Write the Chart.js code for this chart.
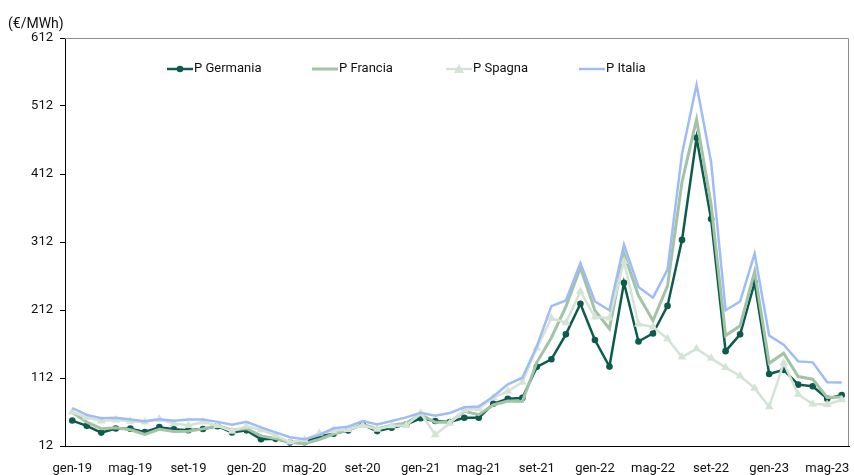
<!DOCTYPE html>
<html>
<head>
<meta charset="utf-8">
<script src="https://cdn.jsdelivr.net/npm/chart.js@4.4.1/dist/chart.umd.min.js"></script>
<style>
  html, body { margin: 0; padding: 0; background: #fff; overflow: hidden; }
  #wrap { width: 854px; height: 475px; position: relative; }
</style>
</head>
<body>
<div id="wrap"><canvas id="grafico" width="854" height="475"></canvas></div>
<script>
// mesi e anni delle etichette
const mesi = ['gen', 'feb', 'mar', 'apr', 'mag', 'giu', 'lug', 'ago', 'set', 'ott', 'nov', 'dic'];
const anni = ['19', '20', '21', '22', '23'];
const yTicks = [12, 112, 212, 312, 412, 512, 612];

// prezzi medi mensili (€/MWh), gen-19 .. giu-23
const pGermania = [
  49.4, 41.6, 31.7, 37.7, 37.5, 32.6, 39.7, 36.5, 35.1, 37.1, 41.1, 31.9,
  35.0, 21.9, 22.5, 17.1, 17.6, 26.2, 30.1, 34.9, 43.6, 33.9, 38.8, 43.5,
  52.8, 48.7, 47.2, 53.6, 53.7, 74.1, 81.5, 82.7, 128.4, 139.5, 176.2, 221.1,
  167.9, 128.8, 252.0, 165.7, 177.5, 218.0, 315.1, 465.2, 345.9, 151.5, 176.2, 252.4,
  117.8, 124.0, 102.2, 99.9, 81.6, 87.0
];
const pFrancia = [
  61.6, 47.2, 37.5, 38.7, 35.8, 29.0, 36.6, 33.3, 33.6, 37.2, 41.9, 35.3,
  37.7, 26.9, 22.9, 17.5, 15.3, 21.6, 29.6, 35.3, 43.9, 37.2, 42.4, 45.6,
  58.5, 47.0, 47.1, 63.0, 58.0, 72.4, 78.0, 77.4, 135.1, 171.3, 216.8, 274.6,
  211.4, 184.4, 294.9, 233.0, 196.4, 247.5, 400.4, 492.3, 367.3, 174.5, 188.9, 268.5,
  133.6, 148.4, 114.1, 110.2, 83.3, 84.0
];
const pSpagna = [
  62.0, 54.0, 48.8, 50.4, 48.4, 47.2, 51.5, 45.0, 42.1, 47.2, 42.2, 33.8,
  41.1, 35.9, 27.7, 17.7, 21.3, 30.6, 34.6, 36.2, 42.0, 36.6, 41.9, 42.0,
  60.2, 28.5, 45.4, 65.0, 67.1, 83.3, 92.4, 105.9, 156.1, 199.9, 193.4, 239.2,
  201.7, 200.2, 283.3, 191.5, 187.1, 169.6, 142.7, 154.9, 141.1, 127.3, 115.0, 97.0,
  69.6, 134.0, 88.0, 73.7, 73.0, 80.0
];
const pItalia = [
  67.6, 57.7, 52.9, 53.4, 51.0, 48.5, 51.4, 49.2, 50.9, 51.0, 47.5, 43.2,
  47.5, 39.3, 32.0, 24.8, 21.8, 28.0, 38.0, 40.3, 48.8, 43.6, 48.8, 54.1,
  60.7, 56.6, 60.4, 69.0, 70.0, 84.8, 102.7, 112.4, 158.6, 217.6, 226.0, 281.2,
  224.5, 211.7, 308.1, 246.0, 230.1, 271.3, 441.7, 543.2, 429.9, 211.7, 224.5, 294.9,
  174.5, 161.1, 136.4, 135.0, 105.7, 105.3
];

const etichette = [];
anni.forEach(a => mesi.forEach(m => etichette.push(m + '-' + a)));
etichette.length = pGermania.length;

const colori = {
  germania: '#0c5b4c',
  francia: '#a2c3a6',
  spagna: '#d4e3d6',
  italia: '#9fbcf7'
};
const FONT = 'Roboto, "Liberation Sans", sans-serif';

// legenda dentro l'area del grafico, come nell'originale
const legendaPlugin = {
  id: 'legendaExcel',
  afterDraw(chart) {
    const ctx = chart.ctx;
    const voci = [
      { x: 167, testo: 'P Germania', colore: colori.germania, punto: 'circle', w: 2.5 },
      { x: 312, testo: 'P Francia', colore: colori.francia, punto: null, w: 3 },
      { x: 446, testo: 'P Spagna', colore: colori.spagna, punto: 'triangle', w: 2.5 },
      { x: 579, testo: 'P Italia', colore: colori.italia, punto: null, w: 2.5 }
    ];
    const y = 69;
    ctx.save();
    voci.forEach(v => {
      ctx.strokeStyle = v.colore;
      ctx.lineWidth = v.w;
      ctx.beginPath();
      ctx.moveTo(v.x, y);
      ctx.lineTo(v.x + 26, y);
      ctx.stroke();
      ctx.fillStyle = v.colore;
      if (v.punto === 'circle') {
        ctx.beginPath();
        ctx.arc(v.x + 13, y, 3.3, 0, Math.PI * 2);
        ctx.fill();
      } else if (v.punto === 'triangle') {
        ctx.beginPath();
        ctx.moveTo(v.x + 13, y - 5);
        ctx.lineTo(v.x + 18, y + 4);
        ctx.lineTo(v.x + 8, y + 4);
        ctx.closePath();
        ctx.fill();
      }
      ctx.fillStyle = '#111';
      ctx.font = '13px ' + FONT;
      ctx.textBaseline = 'middle';
      ctx.textAlign = 'left';
      ctx.fillText(v.testo, v.x + 27, y);
    });
    // unità di misura
    ctx.font = '14px ' + FONT;
    ctx.fillText('(€/MWh)', 8, 24);
    ctx.restore();
  }
};

// bordo grigio in alto e a destra dell'area del grafico
const bordoPlugin = {
  id: 'bordoArea',
  beforeDatasetsDraw(chart) {
    const { ctx, chartArea: a } = chart;
    ctx.save();
    ctx.strokeStyle = '#8c8c8c';
    ctx.lineWidth = 1;
    ctx.beginPath();
    ctx.moveTo(a.left, a.top + 0.5);
    ctx.lineTo(a.right - 0.5, a.top + 0.5);
    ctx.lineTo(a.right - 0.5, a.bottom);
    ctx.stroke();
    ctx.restore();
  }
};

new Chart(document.getElementById('grafico').getContext('2d'), {
  type: 'line',
  data: {
    labels: etichette,
    datasets: [
      {
        label: 'P Germania', data: pGermania, order: 3,
        borderColor: colori.germania, backgroundColor: colori.germania,
        borderWidth: 2.5, pointRadius: 3.3, pointStyle: 'circle', pointBorderWidth: 0
      },
      {
        label: 'P Francia', data: pFrancia, order: 2,
        borderColor: colori.francia, backgroundColor: colori.francia,
        borderWidth: 3, pointRadius: 0
      },
      {
        label: 'P Spagna', data: pSpagna, order: 1,
        borderColor: colori.spagna, backgroundColor: colori.spagna,
        borderWidth: 2.5, pointRadius: 5, pointStyle: 'triangle', pointBorderWidth: 0
      },
      {
        label: 'P Italia', data: pItalia, order: 0,
        borderColor: colori.italia, backgroundColor: colori.italia,
        borderWidth: 2.5, pointRadius: 0
      }
    ]
  },
  options: {
    responsive: false,
    animation: false,
    maintainAspectRatio: false,
    layout: { padding: { top: 38, right: 0, left: 0, bottom: 0 } },
    elements: { line: { tension: 0 } },
    plugins: {
      legend: { display: false },
      tooltip: { enabled: false }
    },
    scales: {
      x: {
        type: 'category',
        offset: true,
        grid: { display: false },
        border: { display: true, color: '#000', width: 1 },
        ticks: {
          autoSkip: false,
          maxRotation: 0,
          padding: 7,
          color: '#111',
          font: { family: FONT, size: 13 },
          callback: function (val, idx) {
            return idx % 4 === 0 ? this.getLabelForValue(val) : '';
          }
        },
        afterFit: s => { s.height = 29; }
      },
      y: {
        min: 12,
        max: 612,
        afterBuildTicks: s => { s.ticks = yTicks.map(v => ({ value: v })); },
        grid: { drawOnChartArea: false, color: '#000', tickLength: 5 },
        border: { display: true, color: '#000', width: 1 },
        ticks: {
          padding: 7,
          color: '#111',
          font: { family: FONT, size: 13 }
        },
        afterFit: s => { s.width = 65; }
      }
    }
  },
  plugins: [bordoPlugin, legendaPlugin]
});
</script>
</body>
</html>
